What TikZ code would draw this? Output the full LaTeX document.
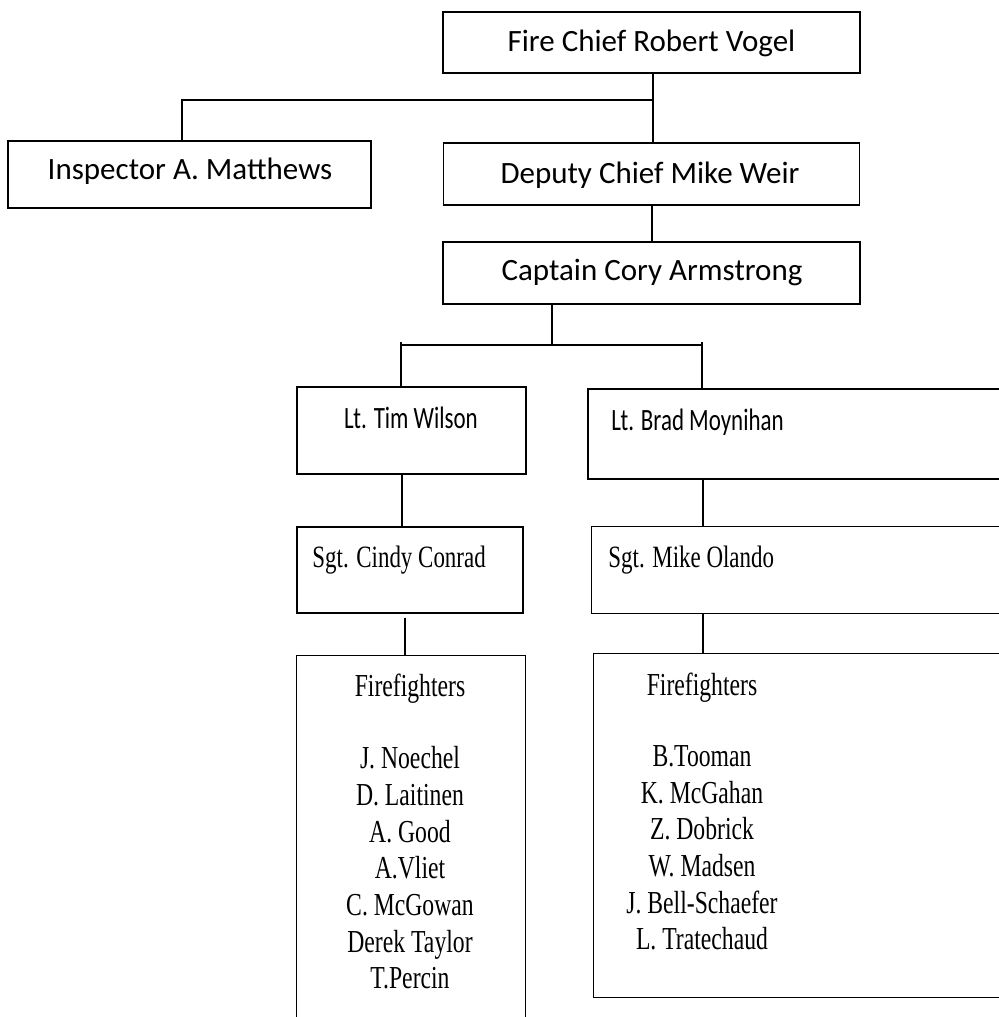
\documentclass[tikz,border=0pt]{standalone}
\usepackage{fontspec}
\newfontfamily\calibri{Carlito}
\newfontfamily\calibricond[FakeStretch=0.74]{Carlito}
\newfontfamily\timescond[FakeStretch=0.74]{Liberation Serif}
\begin{document}
\begin{tikzpicture}[x=0.5pt,y=-0.5pt,
  box/.style={draw=black,line width=0.7pt,rectangle,inner sep=0pt,fill=none},
  ltbox/.style={box,line width=1pt},
  openbox/.style={rectangle,inner sep=0pt,draw=none},
  conn/.style={draw=black,line width=0.7pt},
  outline/.style={draw=black,line width=0.7pt},
  toptext/.style={font=\calibri\fontsize{15.5}{18}\selectfont,inner sep=0pt},
  lttext/.style={font=\calibricond\fontsize{15.5}{18}\selectfont,inner sep=0pt},
  sgttext/.style={font=\timescond\fontsize{15.5}{18}\selectfont,inner sep=0pt},
  fftext/.style={font=\timescond\fontsize{16}{18.35}\selectfont,inner sep=0pt,align=center}]
\useasboundingbox (0,0) rectangle (999,1017);
% boxes fully inside the picture
\node[box,minimum width=208.5pt,minimum height=30.5pt] (chief) at (651.5,42.5) {};
\node[box,minimum width=208pt,minimum height=31pt] (deputy) at (651.5,174) {};
\node[box,minimum width=208.5pt,minimum height=31pt] (captain) at (651.5,273) {};
\node[box,minimum width=181.5pt,minimum height=33.5pt] (inspector) at (189.5,174.5) {};
\node[ltbox,minimum width=114.5pt,minimum height=43.5pt] (tim) at (411.5,430.5) {};
\node[box,minimum width=113pt,minimum height=43pt] (cindy) at (410,570) {};
% boxes cut by the picture edge (right or bottom side not shown)
\node[openbox,minimum width=209pt,minimum height=45pt] (brad) at (797,434) {};
\node[openbox,minimum width=207.5pt,minimum height=43pt] (mike) at (799.5,570) {};
\node[openbox,minimum width=114pt,minimum height=184pt] (ffL) at (411,840) {};
\node[openbox,minimum width=206.5pt,minimum height=171.5pt] (ffR) at (800.5,825.5) {};
\draw[outline,line width=1pt] (brad.north east) -| (brad.south west) -- (brad.south east);
\draw[outline] (mike.north east) -| (mike.south west) -- (mike.south east);
\draw[outline] (ffR.north east) -| (ffR.south west) -- (ffR.south east);
\draw[outline] (ffL.south west) |- (ffL.north east) -- (ffL.south east);
% texts
\node[toptext] (tchief) at (651.5,43) {Fire Chief Robert Vogel};
\node[toptext] (tdeputy) at (650,175) {Deputy Chief Mike Weir};
\node[toptext] (tcaptain) at (652,272) {Captain Cory Armstrong};
\node[toptext] (tinspector) at (190,171) {Inspector A. Matthews};
\node[lttext,anchor=base] (ttim) at (411,428) {Lt. Tim Wilson};
\node[lttext,anchor=base west] (tbrad) at (611,430) {Lt. Brad Moynihan};
\node[sgttext,anchor=base west] (tcindy) at (312,567) {Sgt. Cindy Conrad};
\node[sgttext,anchor=base west] (tmike) at (608,567) {Sgt. Mike Olando};
\node[fftext,anchor=base] (tffL) at (410,696) {Firefighters};
\node[fftext,anchor=north] (tffLn) at (410,746) {J. Noechel\\D. Laitinen\\A. Good\\A.Vliet\\C. McGowan\\Derek Taylor\\T.Percin};
\node[fftext,anchor=base] (tffR) at (702,695) {Firefighters};
\node[fftext,anchor=north] (tffRn) at (702,745) {B.Tooman\\K. McGahan\\Z. Dobrick\\W. Madsen\\J. Bell-Schaefer\\L. Tratechaud};
% junction coordinates
\coordinate (jtop) at (653,100);
\coordinate (jins) at (182,100);
\coordinate (jdc) at (652,0);
\coordinate (jcap) at (552,345);
\coordinate (jl) at (401,345);
\coordinate (jr) at (702,345);
\coordinate (jtl) at (402,0);
\coordinate (jbm) at (703,0);
\coordinate (jcf) at (405,0);
% connectors
\draw[conn] (chief.south -| jtop) -- (deputy.north -| jtop);
\draw[conn] (jtop) -- (jins) -- (inspector.north -| jins);
\draw[conn] (deputy.south -| jdc) -- (captain.north -| jdc);
\draw[conn] (captain.south -| jcap) -- (jcap);
\draw[conn] (jl) -- (jr);
\draw[conn] ([yshift=1.5pt]jl) -- (tim.north -| jl);
\draw[conn] ([yshift=1.5pt]jr) -- (brad.north -| jr);
\draw[conn] (tim.south -| jtl) -- (cindy.north -| jtl);
\draw[conn] (brad.south -| jbm) -- (mike.north -| jbm);
\draw[conn] ([yshift=-2pt]cindy.south -| jcf) -- (ffL.north -| jcf);
\draw[conn] (mike.south -| jbm) -- (ffR.north -| jbm);
\end{tikzpicture}
\end{document}
